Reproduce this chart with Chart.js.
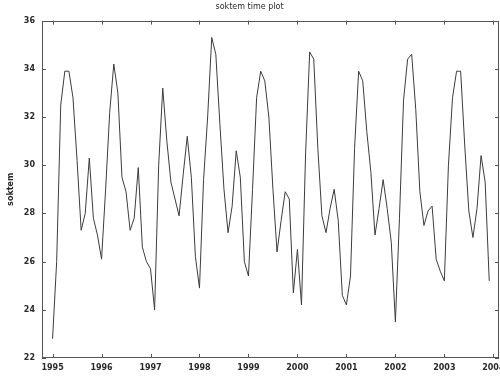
<!DOCTYPE html>
<html>
<head>
<meta charset="UTF-8">
<title>soktem time plot</title>
<script src="https://cdn.jsdelivr.net/npm/chart.js"></script>
<style>
    html, body { margin: 0; padding: 0; background: #fff; overflow: hidden; }
    #wrap { width: 510px; height: 376px; }
</style>
</head>
<body>
<div id="wrap"><canvas id="plot" width="510" height="376"></canvas></div>
<script>
// monthly values, Jan..Dec
const years = [1995, 1996, 1997, 1998, 1999, 2000, 2001, 2002, 2003];
const soktem1995 = [22.8, 26.0, 32.5, 33.9, 33.9, 32.8, 30.2, 27.3, 28.0, 30.3, 27.8, 27.1];
const soktem1996 = [26.1, 29.0, 32.2, 34.2, 33.0, 29.5, 28.9, 27.3, 27.8, 29.9, 26.6, 26.0];
const soktem1997 = [25.7, 24.0, 30.0, 33.2, 31.0, 29.3, 28.6, 27.9, 29.6, 31.2, 29.5, 26.2];
const soktem1998 = [24.9, 29.4, 32.0, 35.3, 34.6, 31.7, 29.0, 27.2, 28.3, 30.6, 29.5, 26.0];
const soktem1999 = [25.4, 29.0, 32.8, 33.9, 33.5, 32.0, 29.0, 26.4, 27.7, 28.9, 28.6, 24.7];
const soktem2000 = [26.5, 24.2, 30.5, 34.7, 34.4, 30.7, 27.9, 27.2, 28.2, 29.0, 27.7, 24.6];
const soktem2001 = [24.2, 25.4, 30.7, 33.9, 33.5, 31.4, 29.7, 27.1, 28.2, 29.4, 28.2, 26.8];
const soktem2002 = [23.5, 27.8, 32.7, 34.4, 34.6, 32.3, 28.9, 27.5, 28.1, 28.3, 26.1, 25.6];
const soktem2003 = [25.2, 30.0, 32.8, 33.9, 33.9, 30.8, 28.1, 27.0, 28.2, 30.4, 29.3, 25.2];
const yTicks = [22, 24, 26, 28, 30, 32, 34, 36];
const xTicks = [1995, 1996, 1997, 1998, 1999, 2000, 2001, 2002, 2003, 2004];

const byYear = [soktem1995, soktem1996, soktem1997, soktem1998, soktem1999,
                soktem2000, soktem2001, soktem2002, soktem2003];
const points = [];
years.forEach((yr, i) => {
    byYear[i].forEach((v, m) => points.push({ x: yr + m / 12, y: v }));
});

const frameColor = '#555';
const textColor = '#2a2a2a';

// box around the plot + ticks pointing inward on all four sides
const frameTicks = {
    id: 'frameTicks',
    afterDatasetsDraw(chart) {
        const { ctx, chartArea: a, scales } = chart;
        const len = 4;
        ctx.save();
        ctx.strokeStyle = frameColor;
        ctx.lineWidth = 1;
        ctx.strokeRect(Math.round(a.left) + 0.5, Math.round(a.top) + 0.5,
                       Math.round(a.right - a.left) - 1, Math.round(a.bottom - a.top) - 1);
        ctx.beginPath();
        scales.x.ticks.forEach(t => {
            const px = Math.round(scales.x.getPixelForValue(t.value)) + 0.5;
            ctx.moveTo(px, a.bottom); ctx.lineTo(px, a.bottom - len);
            ctx.moveTo(px, a.top); ctx.lineTo(px, a.top + len);
        });
        scales.y.ticks.forEach(t => {
            const py = Math.round(scales.y.getPixelForValue(t.value)) + 0.5;
            ctx.moveTo(a.left, py); ctx.lineTo(a.left + len, py);
            ctx.moveTo(a.right, py); ctx.lineTo(a.right - len, py);
        });
        ctx.stroke();
        ctx.restore();
    }
};

new Chart(document.getElementById('plot'), {
    type: 'line',
    data: {
        datasets: [{
            label: 'soktem',
            data: points,
            borderColor: '#3c3c3c',
            borderWidth: 1,
            pointRadius: 0,
            tension: 0,
            fill: false
        }]
    },
    options: {
        responsive: false,
        animation: false,
        layout: { padding: { left: 0, right: 11, top: 0, bottom: 0 } },
        plugins: {
            legend: { display: false },
            tooltip: { enabled: false },
            title: {
                display: true,
                text: 'soktem time plot',
                color: textColor,
                font: { family: 'DejaVu Sans', size: 8, weight: 'normal' },
                padding: { top: 2, bottom: 9 }
            }
        },
        scales: {
            x: {
                type: 'linear',
                min: 1994.784,
                max: 2004.116,
                afterBuildTicks: s => { s.ticks = xTicks.map(v => ({ value: v })); },
                afterFit: s => { s.height = 18; s.paddingLeft = 0; s.paddingRight = 0; },
                grid: { display: false, drawTicks: false },
                border: { display: false },
                ticks: {
                    color: textColor,
                    padding: 5,
                    maxRotation: 0,
                    autoSkip: false,
                    font: { family: 'DejaVu Sans', size: 8, weight: 'bold' },
                    callback: v => String(v)
                }
            },
            y: {
                min: 22,
                max: 36,
                afterBuildTicks: s => { s.ticks = yTicks.map(v => ({ value: v })); },
                afterFit: s => { s.width = 42; s.paddingTop = 0; s.paddingBottom = 0; },
                grid: { display: false, drawTicks: false },
                border: { display: false },
                title: {
                    display: true,
                    text: 'soktem',
                    color: textColor,
                    font: { family: 'DejaVu Sans', size: 8, weight: 'bold' },
                    padding: { top: 6, bottom: 0 }
                },
                ticks: {
                    color: textColor,
                    padding: 7,
                    font: { family: 'DejaVu Sans', size: 8, weight: 'bold' }
                }
            }
        }
    },
    plugins: [frameTicks]
});
</script>
</body>
</html>
